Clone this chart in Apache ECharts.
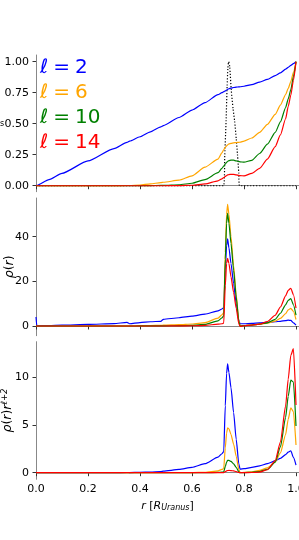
<!DOCTYPE html>
<html>
<head>
<meta charset="utf-8">
<script src="https://cdn.jsdelivr.net/npm/echarts@6/dist/echarts.min.js"></script>
<style>html,body{margin:0;padding:0;background:#fff}#c{width:299px;height:540px}</style>
</head>
<body>
<div id="c"></div>
<script>
// radius grid (fraction of Uranus radius)
const R = [0, 0.003, 0.05, 0.1, 0.2, 0.3, 0.35, 0.36, 0.4, 0.44, 0.48, 0.49, 0.55, 0.6, 0.65, 0.7, 0.715, 0.722, 0.728, 0.733, 0.737, 0.742, 0.75, 0.76, 0.77, 0.78, 0.785, 0.8, 0.83, 0.86, 0.89, 0.92, 0.94, 0.96, 0.97, 0.98, 0.99, 1.0];
const seriesNames = ['ℓ = 2', 'ℓ = 6', 'ℓ = 10', 'ℓ = 14'];
const seriesColors = ['#0000ff', '#ffa500', '#008000', '#ff0000'];

// top panel (normalised cumulative)
const massL2 = [0, 0.003, 0.05, 0.1, 0.2, 0.3, 0.35, 0.36, 0.395, 0.435, 0.475, 0.485, 0.55, 0.61, 0.67, 0.735, 0.75, 0.758, 0.765, 0.772, 0.777, 0.782, 0.787, 0.792, 0.795, 0.797, 0.798, 0.802, 0.815, 0.835, 0.857, 0.888, 0.91, 0.94, 0.955, 0.97, 0.985, 1.0];
const massL6 = [0, 0, 0, 0, 0, 0.001, 0.002, 0.002, 0.006, 0.015, 0.025, 0.028, 0.045, 0.08, 0.15, 0.215, 0.265, 0.29, 0.31, 0.322, 0.33, 0.337, 0.342, 0.346, 0.348, 0.35, 0.351, 0.36, 0.385, 0.43, 0.495, 0.575, 0.65, 0.735, 0.785, 0.84, 0.915, 1.0];
const massL10 = [0, 0, 0, 0, 0, 0, 0, 0, 0, 0.001, 0.003, 0.003, 0.008, 0.02, 0.05, 0.105, 0.14, 0.158, 0.175, 0.188, 0.196, 0.202, 0.206, 0.206, 0.2, 0.195, 0.193, 0.19, 0.205, 0.26, 0.335, 0.43, 0.515, 0.63, 0.7, 0.775, 0.88, 1.0];
const massL14 = [0, 0, 0, 0, 0, 0, 0, 0, 0, 0, 0, 0, 0.001, 0.004, 0.015, 0.04, 0.055, 0.065, 0.075, 0.082, 0.087, 0.09, 0.092, 0.091, 0.088, 0.083, 0.081, 0.08, 0.1, 0.14, 0.215, 0.315, 0.41, 0.54, 0.64, 0.73, 0.85, 1.0];
const kernelR = [0, 0.721, 0.726, 0.731, 0.735, 0.738, 0.741, 0.745, 0.751, 0.758, 0.764, 0.77, 0.775, 0.78, 0.783, 1.0];
const kernelVal = [0, 0, 0.25, 0.52, 0.8, 0.95, 1.0, 0.96, 0.77, 0.62, 0.52, 0.38, 0.25, 0.1, 0, 0];

// middle panel rho(r)
const densL2 = [4, 0.1, 0.2, 0.35, 0.7, 1.1, 1.6, 1.0, 1.5, 1.9, 2.1, 3.0, 3.7, 4.4, 5.3, 6.8, 7.6, 8.2, 25, 36, 39, 35, 28, 19, 10, 2.5, 1.0, 1.0, 1.2, 1.4, 1.6, 1.9, 2.1, 2.4, 2.6, 2.5, 1.4, 0.4];
const densL6 = [0, 0, 0, 0, 0.01, 0.05, 0.08, 0.08, 0.15, 0.2, 0.3, 0.35, 0.6, 0.9, 1.5, 3.5, 5.0, 6.0, 33, 50, 54.5, 50, 40, 27, 14, 2.5, 0.1, 0.2, 0.4, 0.8, 1.3, 2.2, 3.4, 5.5, 7.2, 7.9, 6.5, 2.9];
const densL10 = [0, 0, 0, 0, 0, 0, 0, 0, 0.01, 0.02, 0.05, 0.06, 0.15, 0.3, 0.7, 2.3, 3.6, 4.5, 30, 46, 50.5, 46, 37, 25, 13, 2, 0, 0.2, 0.4, 0.8, 1.4, 3.0, 5.7, 9.5, 11.5, 12.3, 9.5, 4.9];
const densL14 = [0, 0, 0, 0, 0, 0, 0, 0, 0, 0, 0, 0, 0.02, 0.1, 0.3, 0.8, 1.0, 1.3, 18, 28, 30.3, 28, 22, 15, 8, 1.0, -0.2, 0.1, 0.4, 0.8, 2.0, 4.8, 8.5, 13.5, 16.0, 16.9, 14, 8];

// bottom panel rho(r) r^(l+2)
const weightL2 = [0, 0, 0, 0, 0.001, 0.009, 0.024, 0.017, 0.038, 0.07, 0.11, 0.17, 0.34, 0.57, 0.95, 1.63, 1.99, 2.2, 7.0, 10.4, 11.4, 10.5, 8.9, 6.3, 3.5, 0.92, 0.38, 0.42, 0.55, 0.72, 0.95, 1.25, 1.5, 1.9, 2.15, 2.3, 1.6, 0.8];
const weightL6 = [0, 0, 0, 0, 0, 0, 0, 0, 0, 0.001, 0.002, 0.002, 0.005, 0.015, 0.048, 0.2, 0.34, 0.44, 2.6, 4.15, 4.7, 4.6, 4.0, 3.0, 1.72, 0.34, 0.02, 0.03, 0.09, 0.24, 0.51, 1.13, 2.07, 4.0, 5.6, 6.8, 6.4, 2.9];
const weightL10 = [0, 0, 0, 0, 0, 0, 0, 0, 0, 0, 0, 0, 0, 0, 0.005, 0.03, 0.065, 0.09, 0.66, 1.1, 1.3, 1.29, 1.18, 0.93, 0.56, 0.1, 0, 0.014, 0.04, 0.13, 0.35, 1.1, 2.7, 5.8, 8.0, 9.7, 9.5, 4.9];
const weightL14 = [0, 0, 0, 0, 0, 0, 0, 0, 0, 0, 0, 0, 0, 0, 0, 0.006, 0.012, 0.018, 0.11, 0.2, 0.23, 0.24, 0.22, 0.19, 0.12, 0.02, 0, 0.003, 0.02, 0.07, 0.31, 1.26, 3.2, 7.0, 9.8, 12.3, 13.0, 7.1];

const xTicks = [0, 0.2, 0.4, 0.6, 0.8, 1.0];
const yTicks1 = [0, 0.25, 0.5, 0.75, 1.0];
const yTicks2 = [0, 20, 40];
const yTicks3 = [0, 5, 10];

const FONT = 'DejaVu Sans';
const zip = (xs, ys) => xs.map((x, i) => [x, ys[i]]);
const panels = [[massL2, massL6, massL10, massL14], [densL2, densL6, densL10, densL14], [weightL2, weightL6, weightL10, weightL14]];

const grids = [
  {left: 36, right: 0, top: 55, height: 136.7, outerBoundsMode: 'none', containLabel: false},
  {left: 36, right: 0, top: 198, height: 137.7, outerBoundsMode: 'none', containLabel: false},
  {left: 36, right: 0, top: 341.7, height: 137.6, outerBoundsMode: 'none', containLabel: false}
];

function xAxis(i) {
  return {
    type: 'value', gridIndex: i, min: 0, max: 1.0115,
    axisLine: {show: true, lineStyle: {color: '#888', width: 1}},
    axisTick: {show: true, length: 3.5, customValues: xTicks, lineStyle: {color: '#333'}},
    axisLabel: {show: i === 2, customValues: xTicks, margin: 4, fontSize: 11, fontFamily: FONT, color: '#000', formatter: v => v.toFixed(1)},
    splitLine: {show: false},
    name: i === 2 ? '{i|r} [{i|R}{sub|Uranus}]' : '',
    nameLocation: 'middle', nameGap: 20, nameMoveOverlap: false,
    nameTextStyle: {fontSize: 11, fontFamily: FONT, color: '#000', rich: {i: {fontStyle: 'italic', fontSize: 11, fontFamily: FONT}, sub: {fontStyle: 'italic', fontSize: 8, fontFamily: FONT, padding: [5, 0, 0, 0]}}}
  };
}
function yAxis(i, min, max, ticks, fmt, name) {
  return {
    type: 'value', gridIndex: i, min: min, max: max,
    axisLine: {show: true, lineStyle: {color: '#888', width: 1}},
    axisTick: {show: true, length: 3.5, customValues: ticks, lineStyle: {color: '#333'}},
    axisLabel: {customValues: ticks, margin: 7, fontSize: 11, fontFamily: FONT, color: '#000', formatter: fmt},
    splitLine: {show: false},
    name: name, nameLocation: 'middle', nameGap: 20, nameRotate: 90, nameMoveOverlap: false,
    nameTextStyle: {fontSize: 12.5, fontFamily: FONT, color: '#000', rich: {i: {fontStyle: 'italic', fontSize: 12.5, fontFamily: FONT}, sup: {fontStyle: 'italic', fontSize: 8.5, fontFamily: FONT, padding: [0, 0, 7, 0]}}}
  };
}

const series = [{
  type: 'line', name: 'kernel', xAxisIndex: 0, yAxisIndex: 0,
  data: zip(kernelR, kernelVal), showSymbol: false, smooth: 0.2,
  lineStyle: {color: '#000', width: 1.2, type: [1.2, 1.8]}, z: 1, silent: true
}];
panels.forEach((arrs, p) => {
  arrs.forEach((arr, k) => {
    series.push({
      type: 'line', name: seriesNames[k], xAxisIndex: p, yAxisIndex: p,
      data: zip(R, arr), showSymbol: false, smooth: 0.2, smoothMonotone: 'x',
      lineStyle: {color: seriesColors[k], width: 1.2}, itemStyle: {color: seriesColors[k]}, z: 2 + k
    });
  });
});

const chart = echarts.init(document.getElementById('c'), null, {renderer: 'canvas'});
chart.setOption({
  animation: false,
  backgroundColor: '#fff',
  grid: grids,
  xAxis: [xAxis(0), xAxis(1), xAxis(2)],
  yAxis: [
    yAxis(0, -0.048, 1.054, yTicks1, v => v.toFixed(2), ''),
    yAxis(1, -4.35, 57.33, yTicks2, v => String(v), '{i|ρ}({i|r})'),
    yAxis(2, -0.69, 13.73, yTicks3, v => String(v), '{i|ρ}({i|r}){i|r}{sup|ℓ+2}')
  ],
  legend: {
    left: 30, top: 53, orient: 'vertical', itemGap: 5, itemWidth: 0, itemHeight: 20, icon: 'none',
    selectedMode: false,
    textStyle: {fontSize: 20, fontFamily: FONT, rich: {i: {fontStyle: 'italic', fontSize: 20, fontFamily: FONT}}},
    formatter: n => n.replace('ℓ', '{i|ℓ}').replace(/ /g, '\u2005'),
    data: seriesNames.map((n, k) => ({name: n, textStyle: {color: seriesColors[k]}}))
  },
  graphic: [{type: 'text', left: 0, top: 120, style: {text: 's', font: '8px DejaVu Sans', fill: '#000'}}],
  series: series
});
</script>
</body>
</html>
